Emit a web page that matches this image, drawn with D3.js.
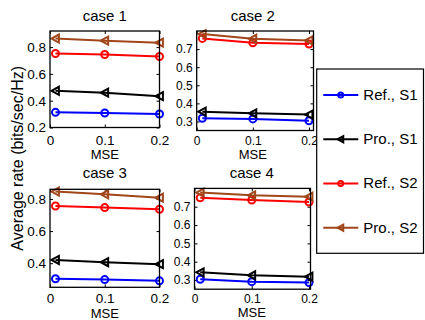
<!DOCTYPE html>
<html lang="en">
<head>
<meta charset="utf-8">
<title>Average rate vs MSE</title>
<script src="https://cdn.jsdelivr.net/npm/d3@7/dist/d3.min.js"></script>
<style>
  body { margin: 0; background: #fff; }
  svg { display: block; font-family: "Liberation Sans", Arial, sans-serif; }
  .tick line { stroke: #000; stroke-width: 1; }
  .domain { display: none; }
</style>
</head>
<body>
<svg width="425" height="320"></svg>
<script>
// ---- data ----
var mse = [0.01, 0.1, 0.2];
var cases = ["case 1", "case 2", "case 3", "case 4"];
var xTicks = [0, 0.1, 0.2];

var refS1 = [[0.313, 0.308, 0.301], [0.318, 0.314, 0.304], [0.303, 0.298, 0.290], [0.304, 0.291, 0.286]];
var proS1 = [[0.474, 0.460, 0.434], [0.354, 0.345, 0.338], [0.420, 0.406, 0.394], [0.342, 0.326, 0.318]];
var refS2 = [[0.752, 0.745, 0.730], [0.759, 0.735, 0.728], [0.756, 0.746, 0.736], [0.749, 0.737, 0.726]];
var proS2 = [[0.864, 0.848, 0.833], [0.783, 0.757, 0.748], [0.846, 0.829, 0.808], [0.777, 0.762, 0.755]];

var yDomains = [[0.2, 0.92], [0.25, 0.8], [0.25, 0.86], [0.25, 0.8]];
var yTicks = [[0.2, 0.4, 0.6, 0.8], [0.3, 0.4, 0.5, 0.6, 0.7], [0.4, 0.6, 0.8], [0.3, 0.4, 0.5, 0.6, 0.7]];

var seriesNames = ["Ref., S1", "Pro., S1", "Ref., S2", "Pro., S2"];
var seriesData = [refS1, proS1, refS2, proS2];
var seriesColors = ["#0000ff", "#000000", "#ff0000", "#a0461a"];
var seriesMarkers = ["circle", "triangle", "circle", "triangle"];

// ---- layout ----
var svg = d3.select("svg");

var panels = [
  {left: 50,    x02: 159.5, boxRight: 159.5, top: 31,    bottom: 127.5, font: 13.5, tickBase: 144.5, titleBase: 20.5, mseBase: 158.5},
  {left: 196.7, x02: 309,   boxRight: 313.5, top: 31,    bottom: 130.5, font: 12,   tickBase: 144.5, titleBase: 20.5, mseBase: 158.5},
  {left: 50,    x02: 159.5, boxRight: 159.5, top: 189.3, bottom: 287.3, font: 13.5, tickBase: 303.5, titleBase: 178,  mseBase: 317.5},
  {left: 194.5, x02: 309,   boxRight: 310.5, top: 188.4, bottom: 289.2, font: 12,   tickBase: 303,   titleBase: 178,  mseBase: 317}
];

function triPath(s) {
  // left-pointing triangle
  return "M" + (-s) + ",0L" + (s * 0.85) + "," + (-s) + "L" + (s * 0.85) + "," + s + "Z";
}

function drawMarker(g, type, color, cx, cy, s) {
  if (type == "circle") {
    g.append("circle").attr("cx", cx).attr("cy", cy).attr("r", s)
      .attr("fill", "none").attr("stroke", color).attr("stroke-width", 2);
  } else {
    g.append("path").attr("d", triPath(s + 0.5))
      .attr("transform", "translate(" + cx + "," + cy + ")")
      .attr("fill", "none").attr("stroke", color).attr("stroke-width", 2)
      .attr("stroke-linejoin", "miter");
  }
}

panels.forEach(function(p, i) {
  var x = d3.scaleLinear().domain([0, 0.2]).range([p.left, p.x02]);
  var y = d3.scaleLinear().domain(yDomains[i]).range([p.bottom, p.top]);
  var g = svg.append("g");

  // ticks and tick labels
  var ax = g.append("g").attr("transform", "translate(0," + p.bottom + ")")
    .call(d3.axisBottom(x).tickValues(xTicks).tickSize(-3).tickFormat(d3.format("")));
  ax.selectAll("text").attr("dy", null).attr("y", p.tickBase - p.bottom)
    .attr("font-size", p.font).attr("fill", "#000").attr("font-family", null);

  var ay = g.append("g").attr("transform", "translate(" + p.left + ",0)")
    .call(d3.axisLeft(y).tickValues(yTicks[i]).tickSize(-3).tickPadding(4).tickFormat(d3.format("")));
  ay.selectAll("text").attr("font-size", p.font).attr("fill", "#000").attr("font-family", null);

  // mirrored ticks on top and right
  g.append("g").attr("transform", "translate(0," + p.top + ")")
    .call(d3.axisTop(x).tickValues(xTicks).tickSize(-3).tickFormat(""));
  g.append("g").attr("transform", "translate(" + p.boxRight + ",0)")
    .call(d3.axisRight(y).tickValues(yTicks[i]).tickSize(-3).tickFormat(""));

  // series
  seriesData.forEach(function(ser, k) {
    var vals = ser[i];
    var line = d3.line()
      .x(function(d, j) { return x(mse[j]); })
      .y(function(d) { return y(d); });
    g.append("path").datum(vals).attr("d", line)
      .attr("fill", "none").attr("stroke", seriesColors[k]).attr("stroke-width", 2);
    vals.forEach(function(v, j) {
      drawMarker(g, seriesMarkers[k], seriesColors[k], x(mse[j]), y(v), 3.5);
    });
  });

  // box
  g.append("rect").attr("x", p.left).attr("y", p.top)
    .attr("width", p.boxRight - p.left).attr("height", p.bottom - p.top)
    .attr("fill", "none").attr("stroke", "#000").attr("stroke-width", 1.3);

  var cx = (p.left + p.x02) / 2;
  g.append("text").attr("x", cx).attr("y", p.titleBase).attr("text-anchor", "middle")
    .attr("font-size", 15).text(cases[i]);
  g.append("text").attr("x", cx).attr("y", p.mseBase).attr("text-anchor", "middle")
    .attr("font-size", 13).text("MSE");
});

// y label
svg.append("text")
  .attr("transform", "translate(23,158.3) rotate(-90)")
  .attr("text-anchor", "middle").attr("font-size", 16)
  .text("Average rate (bits/sec/Hz)");

// legend
var leg = svg.append("g");
leg.append("rect").attr("x", 316.7).attr("y", 69).attr("width", 106.8).attr("height", 184.3)
  .attr("fill", "#fff").attr("stroke", "#000").attr("stroke-width", 1.2);

var legY = d3.scalePoint().domain(seriesNames).range([95, 227.7]);
seriesNames.forEach(function(name, k) {
  var ly = legY(name);
  leg.append("line").attr("x1", 323.3).attr("x2", 358.3).attr("y1", ly).attr("y2", ly)
    .attr("stroke", seriesColors[k]).attr("stroke-width", 2);
  drawMarker(leg, seriesMarkers[k], seriesColors[k], 340.7, ly, 2.5);
  leg.append("text").attr("x", 363.3).attr("y", ly + 5).attr("font-size", 15).text(name);
});
</script>
</body>
</html>
